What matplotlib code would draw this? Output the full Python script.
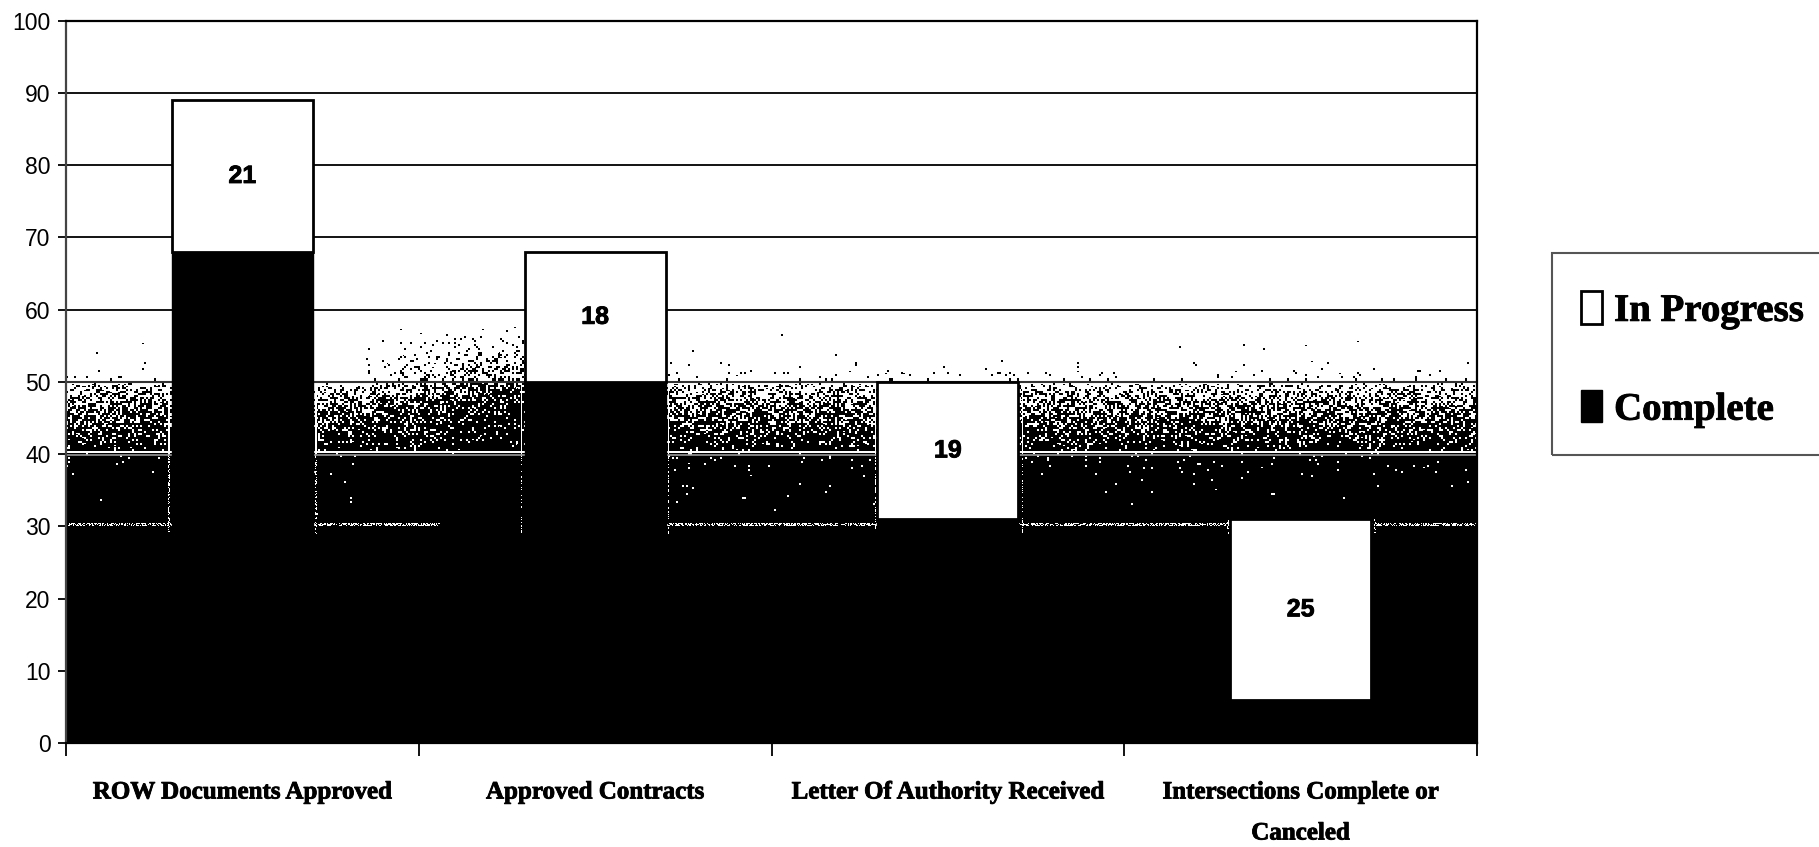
import numpy as np
import matplotlib
matplotlib.use('Agg')
import matplotlib.pyplot as plt
import matplotlib.patheffects as pe
from matplotlib.patches import Rectangle

categories = ['ROW Documents Approved', 'Approved Contracts',
              'Letter Of Authority Received', 'Intersections Complete or\nCanceled']
complete = [68, 50, 31, 6]
in_progress = [21, 18, 19, 25]
y_ticks = [0, 10, 20, 30, 40, 50, 60, 70, 80, 90, 100]

W, H = 1819, 847
L, R, T, B = 66, 1477, 20.7, 743
BAR_W = 0.4

fig = plt.figure(figsize=(W / 100, H / 100), dpi=100)
ax = fig.add_axes([L / W, 1 - B / H, (R - L) / W, (B - T) / H])

x = np.arange(len(categories))
heavy = [pe.withStroke(linewidth=0.6, foreground='black')]

# scanned background: dark speckle that fades out around 50
nx, ny = int(R - L), int(B - T)
px, py = np.meshgrid(np.arange(nx), np.arange(ny))
xd = (px + 0.5) / nx * 4 - 0.5
v = (py + 0.5) / ny * 100
noise = np.abs(np.modf(np.sin((px // 2 + 137) * 12.9898 + (py // 2 + 311) * 78.233) * 43758.5453)[0])
noise2 = np.abs(np.modf(np.sin((px + 53) * 39.346 + (py + 97) * 11.135) * 24634.6345)[0])

stops_v = [0, 30, 33, 37, 39.8, 40.2, 41, 44, 47, 49.4, 49.9, 50, 50.8, 51.6, 53, 56, 58, 100]
stops_d = [1, 1, .998, .99, .975, .97, .88, .72, .5, .25, 0, .05, .045, .012, .002, .0004, 0, 0]
dens = np.interp(v, stops_v, stops_d)

# darker patch in the gap left of the second bar
ramp = np.clip((xd - 0.33) / 0.47, 0, 1) * (xd < 1)
dens = np.where(v > 50,
                dens + ramp * 0.45 * np.clip(1 - (v - 50) / 7.5, 0, 1),
                dens + ramp * (1 - dens) * 0.7 * (v < 49.9))
dens = np.where((v < 40) & (ramp > 0), 1, dens)

img = (noise >= dens).astype(float)

# white halos left by the scan
img[(v > 40.2) & (v < 40.5)] = 1
row30 = (v > 30.1) & (v < 30.5) & (noise2 < 0.55) & ~((xd > 0.56) & (xd < 0.8))
img[row30] = 1
tops = [c + p for c, p in zip(complete, in_progress)]
for c, top in zip(x, tops):
    for s in (-1, 1):
        ex = (c + s * BAR_W / 2 + 0.5) / 4 * nx
        for off in (-3, 3):
            col = (np.abs(px + 0.5 - (ex + off)) < 0.8) & (v < top)
            img[col & (v > 40) & (v < 50)] = 1
            img[col & (v > 29) & (v <= 40) & (noise2 < 0.4)] = 1

ax.imshow(img, cmap='gray', vmin=0, vmax=1, origin='lower', aspect='auto',
          interpolation='nearest', extent=(-0.5, 3.5, 0, 100), zorder=1)

# gridlines
for t in y_ticks[6:]:
    ax.axhline(t, color='black', lw=1.3, zorder=2)
ax.axhline(50, color='#333333', lw=1.5, zorder=2)
ax.axhline(39.85, color='#999999', lw=1.2, zorder=2)

bars_c = ax.bar(x, complete, BAR_W, color='black', edgecolor='black', lw=1, zorder=3)
bars_p = ax.bar(x, in_progress, BAR_W, bottom=complete, color='white',
                edgecolor='black', lw=2, zorder=3)
labels = ax.bar_label(bars_p, label_type='center', fontsize=18, fontweight='bold',
                      family='Liberation Sans', color='black', zorder=4)
for t in labels:
    t.set_path_effects(heavy)

ax.set_xlim(-0.5, 3.5)
ax.set_ylim(0, 100)
ax.set_yticks(y_ticks)
ax.set_yticklabels([str(t) for t in y_ticks], family='Liberation Sans', fontsize=16.5)
ax.tick_params(axis='y', length=6, width=1.3, pad=5)

ax.set_xticks(x)
ax.set_xticklabels(categories, family='Liberation Serif', fontweight='bold',
                   fontsize=18, linespacing=2.0)
ax.set_xticks(np.arange(-0.5, 4), minor=True)
ax.tick_params(axis='x', which='major', length=0, pad=27)
ax.tick_params(axis='x', which='minor', length=9, width=1.3)
for t in ax.get_xticklabels():
    t.set_path_effects(heavy)

for s in ax.spines.values():
    s.set_linewidth(1.6)
    s.set_color('black')
    s.set_zorder(5)
ax.spines['left'].set_color('#444444')

# legend box runs off the right edge of the page
fig.add_artist(Rectangle((1552 / W, 1 - 455 / H), 300 / W, 202 / H, fill=False,
                         edgecolor='#555555', lw=1.5, transform=fig.transFigure))
leg = ax.legend([bars_p, bars_c], ['In Progress', 'Complete'], frameon=False,
                loc='center left', bbox_to_anchor=(1581 / W, 1 - 360 / H),
                bbox_transform=fig.transFigure, borderpad=0, borderaxespad=0,
                prop={'family': 'Liberation Serif', 'weight': 'bold', 'size': 28},
                handlelength=0.55, handleheight=0.9, handletextpad=0.3, labelspacing=1.55)
for t in leg.get_texts():
    t.set_path_effects(heavy)

fig.savefig('out.png', dpi=100)
